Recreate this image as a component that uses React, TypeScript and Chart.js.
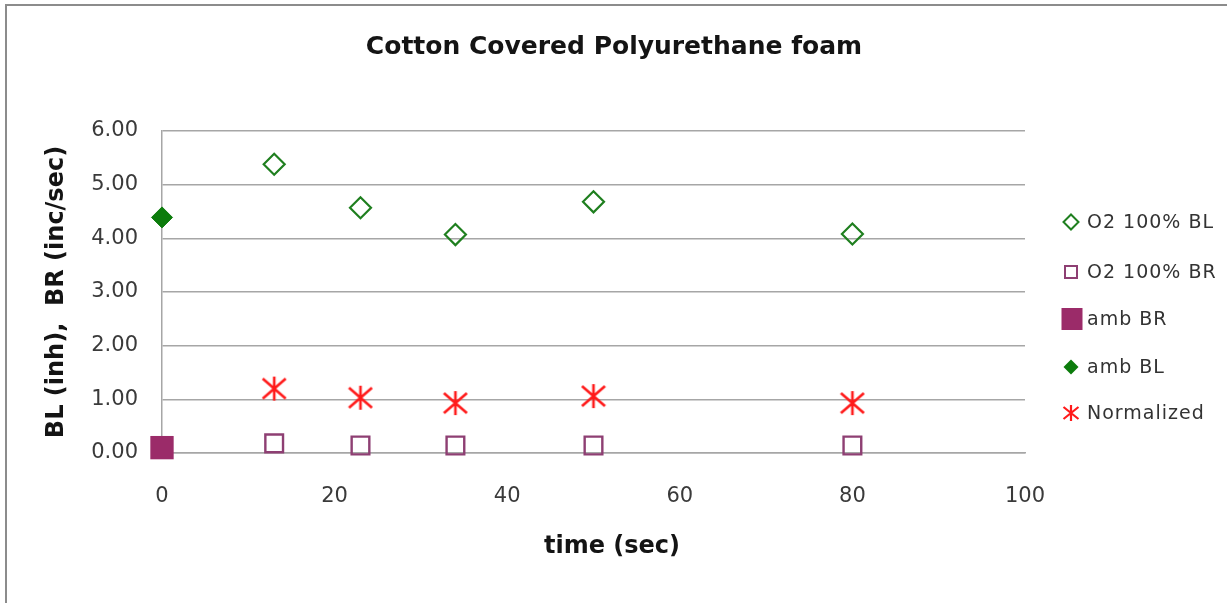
import React, { useEffect, useRef } from 'react';
import { Chart, registerables } from 'chart.js';

Chart.register(...registerables);

// ---- text ----
const TITLE = 'Cotton Covered Polyurethane foam';
const X_TITLE = 'time (sec)';
const Y_TITLE = 'BL (inh),  BR (inc/sec)';

// ---- data ----
const o2Times = [13, 23, 34, 50, 80];
const o2BL = [5.38, 4.57, 4.07, 4.68, 4.08];
const o2BR = [0.18, 0.14, 0.14, 0.14, 0.14];
const normalized = [1.2, 1.03, 0.93, 1.06, 0.93];
const ambTimes = [0];
const ambBR = [0.1];
const ambBL = [4.39];
const seriesLabels = ['O2 100% BL', 'O2 100% BR', 'amb BR', 'amb BL', 'Normalized'];
const xTicks = [0, 20, 40, 60, 80, 100];
const yTicks = [0, 1, 2, 3, 4, 5, 6];

// ---- styles ----
const GREEN = '#1f7f1f';
const GREEN_FILL = '#0c7c0c';
const PURPLE = '#8e3f73';
const PURPLE_FILL = '#9b2b69';
const RED = '#ff1a1a';
const FONT = 'DejaVu Sans';

function makeStar(w: number, h: number, lw: number): HTMLCanvasElement {
  const c = document.createElement('canvas');
  c.width = w;
  c.height = h;
  const ctx = c.getContext('2d')!;
  ctx.strokeStyle = RED;
  ctx.lineWidth = lw;
  const mx = w / 2;
  const my = h / 2;
  const dx = w / 2 - 1.5;
  const dy = h / 2 - 3;
  ctx.beginPath();
  ctx.moveTo(mx, 1);
  ctx.lineTo(mx, h - 1);
  ctx.moveTo(mx - dx, my - dy);
  ctx.lineTo(mx + dx, my + dy);
  ctx.moveTo(mx - dx, my + dy);
  ctx.lineTo(mx + dx, my - dy);
  ctx.stroke();
  return c;
}

const pairs = (xs: number[], ys: number[]) => xs.map((x, i) => ({ x, y: ys[i] }));

export default function App() {
  const ref = useRef<HTMLCanvasElement | null>(null);

  useEffect(() => {
    if (!ref.current) return;
    const starBig = makeStar(26, 26, 2.6);
    const starSmall = makeStar(18, 18, 2.2);

    const legendRows = [
      { y: 222, kind: 'diamondHollow' },
      { y: 272, kind: 'squareHollow' },
      { y: 319, kind: 'squareFilled' },
      { y: 367, kind: 'diamondFilled' },
      { y: 413, kind: 'star' },
    ];

    const decor = {
      id: 'decor',
      beforeDraw(chart: any) {
        const ctx = chart.ctx as CanvasRenderingContext2D;
        ctx.save();
        ctx.fillStyle = '#ffffff';
        ctx.fillRect(0, 0, chart.width, chart.height);
        ctx.strokeStyle = '#8c8c8c';
        ctx.lineWidth = 2;
        ctx.beginPath();
        ctx.moveTo(6, chart.height);
        ctx.lineTo(6, 5);
        ctx.lineTo(chart.width, 5);
        ctx.stroke();
        ctx.restore();
      },
      afterDraw(chart: any) {
        const ctx = chart.ctx as CanvasRenderingContext2D;
        ctx.save();
        // chart title
        ctx.fillStyle = '#141414';
        ctx.textAlign = 'center';
        ctx.textBaseline = 'middle';
        ctx.font = `bold 25px "${FONT}"`;
        ctx.fillText(TITLE, 614, 47);
        // x axis title
        ctx.font = `bold 24px "${FONT}"`;
        ctx.fillText(X_TITLE, 612, 547);
        // legend
        ctx.font = `19px "${FONT}"`;
        (ctx as any).letterSpacing = '1px';
        ctx.textAlign = 'left';
        ctx.fillStyle = '#333333';
        const cx = 1071;
        chart.data.datasets.forEach((ds: any, i: number) => {
          const row = legendRows[i];
          const y = row.y;
          ctx.save();
          if (row.kind === 'diamondHollow' || row.kind === 'diamondFilled') {
            const r = 7.5;
            ctx.beginPath();
            ctx.moveTo(cx, y - r);
            ctx.lineTo(cx + r, y);
            ctx.lineTo(cx, y + r);
            ctx.lineTo(cx - r, y);
            ctx.closePath();
            if (row.kind === 'diamondFilled') {
              ctx.fillStyle = ds.pointBackgroundColor;
              ctx.fill();
            } else {
              ctx.strokeStyle = ds.pointBorderColor;
              ctx.lineWidth = 2;
              ctx.stroke();
            }
          } else if (row.kind === 'squareHollow') {
            ctx.strokeStyle = ds.pointBorderColor;
            ctx.lineWidth = 2;
            ctx.strokeRect(cx - 6, y - 6, 12, 12);
          } else if (row.kind === 'squareFilled') {
            ctx.fillStyle = ds.pointBackgroundColor;
            ctx.fillRect(cx - 9.5, y - 11, 21, 22);
          } else {
            ctx.drawImage(starSmall, cx - 9, y - 9);
          }
          ctx.restore();
          ctx.fillText(ds.label, 1087, y + 1);
        });
        ctx.restore();
      },
    };

    const chart = new Chart(ref.current, {
      type: 'scatter',
      data: {
        datasets: [
          {
            label: seriesLabels[0],
            data: pairs(o2Times, o2BL),
            pointStyle: 'rectRot',
            pointRadius: 10.5,
            pointBorderWidth: 2.2,
            pointBorderColor: GREEN,
            pointBackgroundColor: 'rgba(255,255,255,0)',
            showLine: false,
            clip: false,
          },
          {
            label: seriesLabels[1],
            data: pairs(o2Times, o2BR),
            pointStyle: 'rect',
            pointRadius: 12.5,
            pointBorderWidth: 2.4,
            pointBorderColor: PURPLE,
            pointBackgroundColor: 'rgba(255,255,255,0)',
            showLine: false,
            clip: false,
          },
          {
            label: seriesLabels[2],
            data: pairs(ambTimes, ambBR),
            pointStyle: 'rect',
            pointRadius: 16.5,
            pointBorderWidth: 0,
            pointBorderColor: PURPLE_FILL,
            pointBackgroundColor: PURPLE_FILL,
            showLine: false,
            clip: false,
          },
          {
            label: seriesLabels[3],
            data: pairs(ambTimes, ambBL),
            pointStyle: 'rectRot',
            pointRadius: 10.5,
            pointBorderWidth: 1,
            pointBorderColor: GREEN_FILL,
            pointBackgroundColor: GREEN_FILL,
            showLine: false,
            clip: false,
          },
          {
            label: seriesLabels[4],
            data: pairs(o2Times, normalized),
            pointStyle: starBig as any,
            pointRadius: 12,
            pointBorderColor: RED,
            pointBackgroundColor: RED,
            showLine: false,
            clip: false,
          },
        ] as any,
      },
      options: {
        responsive: false,
        maintainAspectRatio: false,
        animation: false,
        devicePixelRatio: 1,
        layout: { padding: { left: 0, right: 202, top: 131, bottom: 0 } },
        plugins: {
          legend: { display: false },
          title: { display: false },
          tooltip: { enabled: false },
        },
        scales: {
          x: {
            type: 'linear',
            min: 0,
            max: 100,
            afterBuildTicks: (scale: any) => {
              scale.ticks = xTicks.map((v) => ({ value: v }));
            },
            afterFit: (scale: any) => {
              scale.height = 150;
            },
            grid: { display: false, drawTicks: false },
            border: { display: true, color: '#a6a6a6', width: 1.5 },
            ticks: {
              padding: 31,
              color: '#3a3a3a',
              font: { family: FONT, size: 21 },
            },
          },
          y: {
            type: 'linear',
            min: 0,
            max: 6,
            afterBuildTicks: (scale: any) => {
              scale.ticks = yTicks.map((v) => ({ value: v }));
            },
            afterFit: (scale: any) => {
              scale.width = 162;
            },
            grid: { color: '#a6a6a6', lineWidth: 1.5, drawTicks: false },
            border: { display: true, color: '#a6a6a6', width: 1.5 },
            ticks: {
              padding: 24,
              color: '#3a3a3a',
              font: { family: FONT, size: 21 },
              callback: (v: any) => Number(v).toFixed(2),
            },
            title: {
              display: true,
              text: Y_TITLE,
              color: '#141414',
              font: { family: FONT, size: 24, weight: 'bold' },
              padding: { top: 42, bottom: 0 },
            },
          },
        },
      } as any,
      plugins: [decor],
    });
    return () => chart.destroy();
  }, []);

  return (
    <div style={{ position: 'fixed', left: 0, top: 0, width: 1227, height: 603, background: '#fff' }}>
      <canvas ref={ref} width={1227} height={603} style={{ display: 'block' }} />
    </div>
  );
}
